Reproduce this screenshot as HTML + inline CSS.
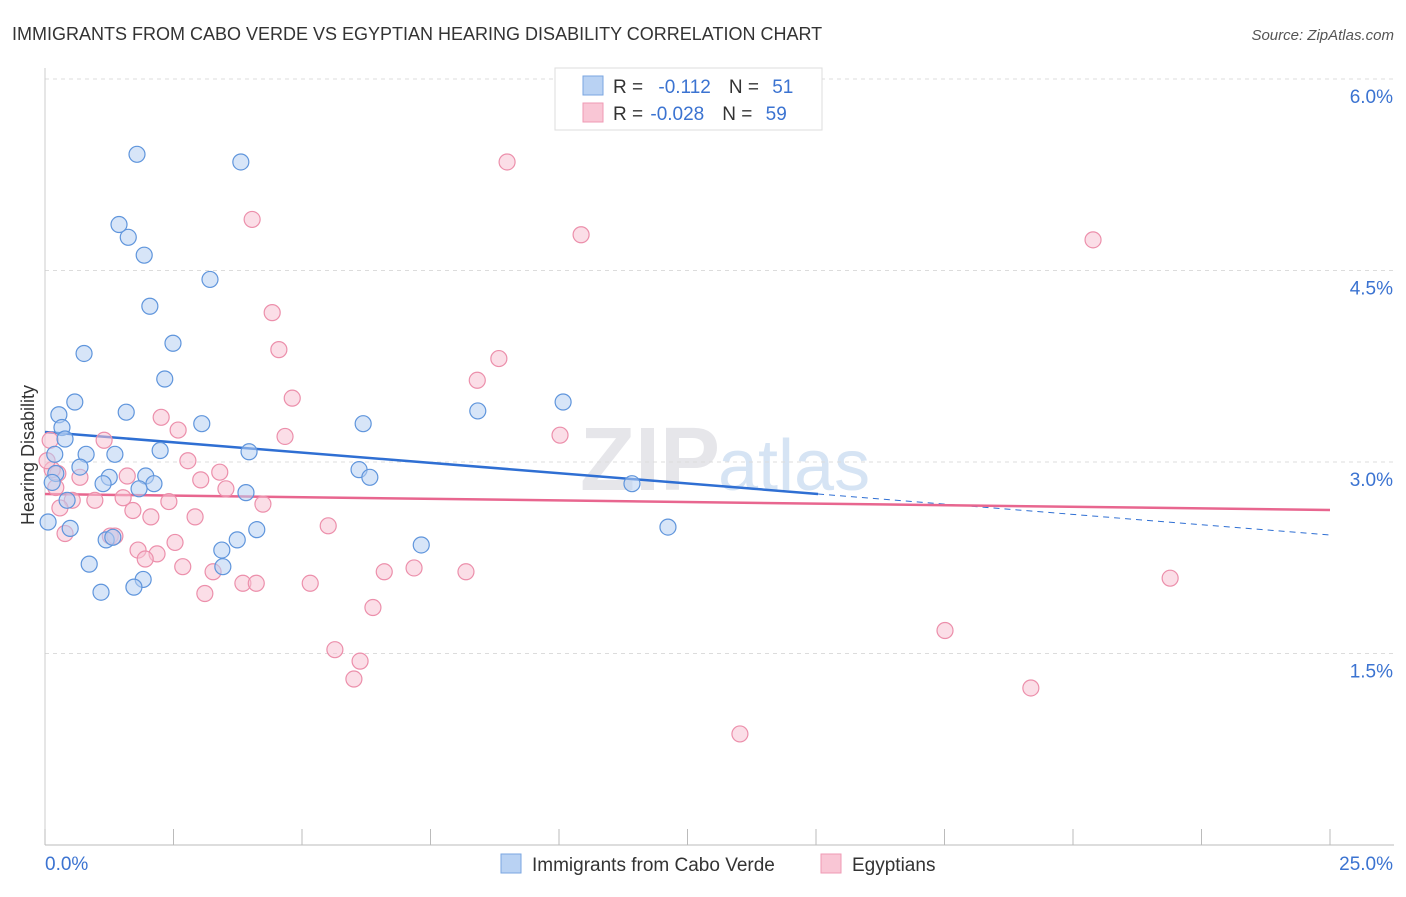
<!DOCTYPE html>
<html><head><meta charset="utf-8"><style>
body{margin:0;background:#fff;font-family:"Liberation Sans",sans-serif;}
svg text{font-family:"Liberation Sans",sans-serif;}
</style></head><body>
<svg id="chart" width="1406" height="892" viewBox="0 0 1406 892" xmlns="http://www.w3.org/2000/svg">
<text x="12" y="40" font-size="18" fill="#333">IMMIGRANTS FROM CABO VERDE VS EGYPTIAN HEARING DISABILITY CORRELATION CHART</text>
<text x="1394" y="40" font-size="15" fill="#555" text-anchor="end" font-style="italic">Source: ZipAtlas.com</text>
<text x="720" y="490" font-size="90" fill="#e6e6ea" text-anchor="end" font-family="Liberation Serif" font-weight="bold">ZIP</text>
<text x="718" y="490" font-size="72" fill="#d6e4f4">atlas</text>
<g id="grid"></g>
<g id="axes"></g>
<g id="trend"></g>
<g id="pts"></g>
<text transform="translate(34,455) rotate(-90)" font-size="18" fill="#333" text-anchor="middle">Hearing Disability</text>
<g>
<rect x="555" y="68" width="267" height="62" fill="#fff" stroke="#ddd"/>
<rect x="583" y="76" width="20" height="19" fill="#b9d2f3" stroke="#7aa6e0"/>
<rect x="583" y="103" width="20" height="19" fill="#f9c6d5" stroke="#ef9ab4"/>
<text x="613" y="93" font-size="19" fill="#333">R = <tspan fill="#3b73d1" dx="10">-0.112</tspan><tspan fill="#333" dx="18">N = </tspan><tspan fill="#3b73d1" dx="8">51</tspan></text>
<text x="613" y="120" font-size="19" fill="#333">R = <tspan fill="#3b73d1" dx="2">-0.028</tspan><tspan fill="#333" dx="18">N = </tspan><tspan fill="#3b73d1" dx="8">59</tspan></text>
</g>
<g>
<rect x="501" y="854" width="20" height="19" fill="#b9d2f3" stroke="#7aa6e0"/>
<text x="532" y="871" font-size="19" fill="#333">Immigrants from Cabo Verde</text>
<rect x="821" y="854" width="20" height="19" fill="#f9c6d5" stroke="#ef9ab4"/>
<text x="852" y="871" font-size="19" fill="#333">Egyptians</text>
</g>
</svg>
<script>
const yTicks=[1.5,3.0,4.5,6.0];
const yTickLabels=["1.5%","3.0%","4.5%","6.0%"];
const xTickLabels=["0.0%","25.0%"];
const blueX=[1.79,3.81,1.62,1.44,1.93,3.21,2.04,2.49,0.76,2.33,0.58,0.27,1.58,3.05,0.33,0.39,2.24,0.80,1.36,3.97,0.19,0.68,0.21,1.96,1.25,1.13,2.12,1.83,3.91,0.43,0.06,0.49,1.19,1.32,4.12,3.74,3.44,0.86,3.46,1.91,1.73,1.09,6.19,6.11,6.32,7.32,8.42,10.08,11.42,12.12,0.14];
const blueY=[5.41,5.35,4.76,4.86,4.62,4.43,4.22,3.93,3.85,3.65,3.47,3.37,3.39,3.30,3.27,3.18,3.09,3.06,3.06,3.08,3.06,2.96,2.91,2.89,2.88,2.83,2.83,2.79,2.76,2.70,2.53,2.48,2.39,2.41,2.47,2.39,2.31,2.20,2.18,2.08,2.02,1.98,3.30,2.94,2.88,2.35,3.40,3.47,2.83,2.49,2.84];
const pinkX=[8.99,4.03,10.43,20.39,4.42,4.55,8.83,8.41,4.81,2.26,2.59,10.02,4.67,1.15,2.78,3.40,0.25,0.68,1.60,3.03,3.52,0.97,2.41,1.52,0.53,4.24,1.71,2.06,2.92,0.21,0.14,5.51,0.39,1.27,1.36,2.53,1.81,2.18,1.95,2.68,3.27,6.60,7.18,8.19,3.85,4.11,5.16,3.11,21.89,6.38,17.51,5.64,6.13,6.01,19.18,13.52,0.10,0.04,0.29];
const pinkY=[5.35,4.90,4.78,4.74,4.17,3.88,3.81,3.64,3.50,3.35,3.25,3.21,3.20,3.17,3.01,2.92,2.91,2.88,2.89,2.86,2.79,2.70,2.69,2.72,2.70,2.67,2.62,2.57,2.57,2.80,2.94,2.50,2.44,2.42,2.42,2.37,2.31,2.28,2.24,2.18,2.14,2.14,2.17,2.14,2.05,2.05,2.05,1.97,2.09,1.86,1.68,1.53,1.44,1.30,1.23,0.87,3.17,3.01,2.64];
const blueTrend=[3.235,2.428];
const blueSolidEnd=15.04;
const pinkTrend=[2.749,2.624];
const X0=45,X1=1330,Y0=845,PPU=127.67;
const sx=v=>X0+(v/25)*(X1-X0);
const sy=v=>Y0-v*PPU;
const NS="http://www.w3.org/2000/svg";
function mk(t,a,p){const e=document.createElementNS(NS,t);for(const k in a)e.setAttribute(k,a[k]);p.appendChild(e);return e;}
const grid=document.getElementById('grid'),axes=document.getElementById('axes'),trend=document.getElementById('trend'),pts=document.getElementById('pts');
yTicks.forEach((v,i)=>{
 const l=mk('line',{x1:X0,x2:1394,y1:sy(v),y2:sy(v),stroke:'#dcdcdc','stroke-dasharray':'4,4'},grid);
 
 
 const t=mk('text',{x:1393,y:sy(v)+24,'font-size':19,fill:'#3b73d1','text-anchor':'end'},axes);
 t.textContent=yTickLabels[i];
 
 
});
const ax=mk('line',{x1:X0,x2:1394,y1:Y0,y2:Y0,stroke:'#bbb'},axes);


const ay=mk('line',{x1:X0,x2:X0,y1:68,y2:Y0,stroke:'#ccc'},axes);


for(let i=0;i<=10;i++){const x=X0+i*(X1-X0)/10;const tk=mk('line',{x1:x,x2:x,y1:Y0,y2:Y0-16,stroke:'#bbb'},axes);
 
 }
const xl0=mk('text',{x:45,y:870,'font-size':19,fill:'#3b73d1'},axes);xl0.textContent=xTickLabels[0];


const xl1=mk('text',{x:1393,y:870,'font-size':19,fill:'#3b73d1','text-anchor':'end'},axes);xl1.textContent=xTickLabels[1];


function drawPts(xs,ys,fill,stroke,name){xs.forEach((x,i)=>{const c=mk('circle',{cx:sx(x),cy:sy(ys[i]),r:8,fill:fill,'fill-opacity':0.55,stroke:stroke,'stroke-width':1.2},pts);
 
 });}
drawPts(pinkX,pinkY,'#f8c3d3','#ec8fab','point-egyptians');
drawPts(blueX,blueY,'#b7d0f2','#5f95dc','point-cabo-verde');
const by=x=>blueTrend[0]+(blueTrend[1]-blueTrend[0])*x/25;
const bl=mk('line',{x1:sx(0),y1:sy(by(0)),x2:sx(blueSolidEnd),y2:sy(by(blueSolidEnd)),stroke:'#2f6fd3','stroke-width':2.5},trend);


const bd=mk('line',{x1:sx(blueSolidEnd),y1:sy(by(blueSolidEnd)),x2:sx(25),y2:sy(by(25)),stroke:'#2f6fd3','stroke-width':1,'stroke-dasharray':'6,5'},trend);


const pl=mk('line',{x1:sx(0),y1:sy(pinkTrend[0]),x2:sx(25),y2:sy(pinkTrend[1]),stroke:'#e8668f','stroke-width':2.5},trend);


</script>
</body></html>
